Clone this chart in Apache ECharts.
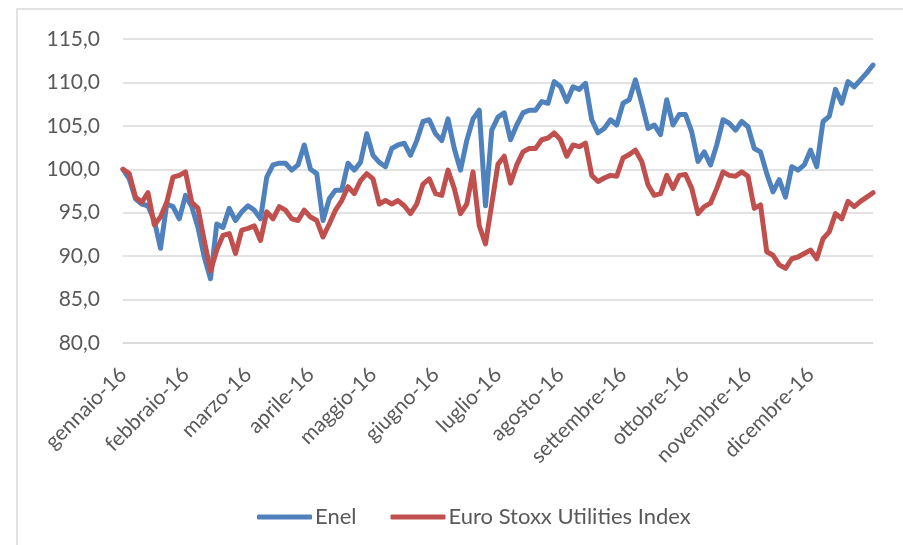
<!DOCTYPE html>
<html>
<head>
<meta charset="utf-8">
<script src="https://cdn.jsdelivr.net/npm/echarts@6/dist/echarts.min.js"></script>
<style>
  html, body { margin: 0; padding: 0; background: #fff; }
  #chart1 { width: 903px; height: 545px; }
</style>
</head>
<body>
<div id="chart1"></div>
<script>
// mesi (etichette asse x) e punti per mese
var months = ['gennaio-16', 'febbraio-16', 'marzo-16', 'aprile-16', 'maggio-16', 'giugno-16',
  'luglio-16', 'agosto-16', 'settembre-16', 'ottobre-16', 'novembre-16', 'dicembre-16'];
var perMonth = 10;

var enel = [
  100.0, 98.9, 96.6, 96.0, 95.8, 94.1, 90.9, 96.0, 95.7, 94.3,
  97.0, 95.7, 93.3, 89.9, 87.4, 93.7, 93.3, 95.5, 94.1, 95.1,
  95.8, 95.3, 94.3, 99.1, 100.5, 100.7, 100.7, 99.9, 100.5, 102.8,
  100.0, 99.5, 94.1, 96.6, 97.6, 97.6, 100.7, 99.9, 100.8, 104.1,
  101.6, 100.8, 100.3, 102.4, 102.8, 103.0, 101.6, 103.3, 105.5, 105.7,
  104.1, 103.3, 105.8, 102.4, 99.9, 103.3, 105.8, 106.8, 95.8, 104.5,
  106.0, 106.5, 103.4, 105.1, 106.5, 106.8, 106.8, 107.8, 107.6, 110.1,
  109.5, 107.8, 109.5, 109.2, 109.9, 105.7, 104.2, 104.7, 105.7, 105.1,
  107.6, 108.0, 110.3, 107.6, 104.7, 105.1, 104.0, 108.0, 105.1, 106.3,
  106.3, 104.3, 100.9, 102.0, 100.5, 102.8, 105.7, 105.3, 104.5, 105.5,
  104.9, 102.4, 102.0, 99.5, 97.4, 98.8, 96.8, 100.3, 99.9, 100.5,
  102.2, 100.3, 105.5, 106.1, 109.2, 107.6, 110.1, 109.5, 110.3, 111.1,
  112.0
];

var stoxx = [
  100.0, 99.5, 96.8, 96.2, 97.3, 93.6, 94.5, 96.2, 99.1, 99.3,
  99.7, 96.2, 95.5, 91.8, 88.3, 90.7, 92.4, 92.6, 90.3, 93.0,
  93.2, 93.5, 91.8, 95.1, 94.3, 95.7, 95.3, 94.3, 94.1, 95.3,
  94.5, 94.1, 92.2, 93.7, 95.3, 96.4, 98.0, 97.2, 98.7, 99.5,
  98.9, 96.0, 96.4, 96.0, 96.4, 95.8, 94.9, 96.0, 98.3, 98.9,
  97.2, 97.0, 99.9, 97.8, 94.9, 96.0, 99.7, 93.5, 91.4, 96.0,
  100.6, 101.5, 98.4, 100.5, 102.0, 102.4, 102.4, 103.4, 103.6, 104.2,
  103.4, 101.5, 102.8, 102.6, 103.0, 99.3, 98.6, 99.0, 99.3, 99.2,
  101.3, 101.7, 102.2, 100.9, 98.2, 97.0, 97.2, 99.3, 97.8, 99.3,
  99.4, 97.8, 94.9, 95.7, 96.1, 97.8, 99.7, 99.3, 99.2, 99.7,
  99.2, 95.5, 95.9, 90.5, 90.1, 89.0, 88.6, 89.7, 89.9, 90.3,
  90.7, 89.7, 92.0, 92.8, 94.9, 94.3, 96.3, 95.7, 96.3, 96.8,
  97.3
];

// categorie: un punto ogni ~2 giorni lavorativi
var categories = [];
for (var m = 0; m < months.length; m++) {
  for (var d = 0; d < perMonth; d++) categories.push(months[m] + '|' + d);
}
categories.push('fine|0');

var myChart = echarts.init(document.getElementById('chart1'));
var txt = '#595959';

var option = {
  animation: false,
  backgroundColor: '#fff',
  graphic: [{
    type: 'rect',
    shape: { x: 17, y: 9, width: 920, height: 560 },
    style: { fill: 'none', stroke: '#d9d9d9', lineWidth: 1.5 }
  }],
  grid: { left: 123, right: 30, top: 39, bottom: 202 },
  legend: {
    left: 252,
    top: 501,
    icon: 'roundRect',
    itemWidth: 55,
    itemHeight: 5,
    itemGap: 34,
    textStyle: { color: txt, fontSize: 22, fontFamily: 'Lato', padding: [0, 0, 0, -2] },
    data: ['Enel', 'Euro Stoxx Utilities Index']
  },
  xAxis: {
    type: 'category',
    boundaryGap: false,
    data: categories,
    axisLine: { show: true, lineStyle: { color: '#d9d9d9', width: 1.5 } },
    axisTick: { show: false },
    axisLabel: {
      interval: perMonth - 1,
      rotate: 45,
      margin: 28,
      color: txt,
      fontSize: 21,
      fontFamily: 'Lato',
      formatter: function (v) { var s = v.split('|')[0]; return s === 'fine' ? '' : s; }
    }
  },
  yAxis: {
    type: 'value',
    min: 80,
    max: 115,
    interval: 5,
    axisLine: { show: false },
    axisTick: { show: false },
    splitLine: { lineStyle: { color: '#d9d9d9', width: 1.5 } },
    axisLabel: {
      margin: 23,
      color: txt,
      fontSize: 21,
      fontFamily: 'Lato',
      formatter: function (v) { return v.toFixed(1).replace('.', ','); }
    }
  },
  series: [
    {
      name: 'Enel',
      type: 'line',
      data: enel,
      showSymbol: false,
      color: '#4f81bd',
      lineStyle: { width: 5, join: 'round', cap: 'round' }
    },
    {
      name: 'Euro Stoxx Utilities Index',
      type: 'line',
      data: stoxx,
      showSymbol: false,
      color: '#c0504d',
      lineStyle: { width: 5, join: 'round', cap: 'round' }
    }
  ]
};

option && myChart.setOption(option);
</script>
</body>
</html>
